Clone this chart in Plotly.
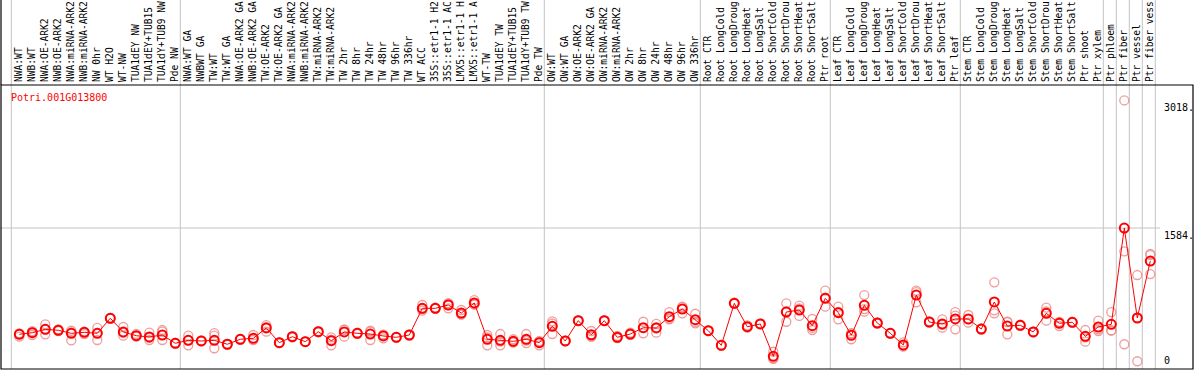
import plotly.graph_objects as go

gene = "Potri.001G013800"

group_nw = ["NWA:WT", "NWB:WT", "NWA:OE-ARK2", "NWB:OE-ARK2", "NWA:miRNA-ARK2", "NWB:miRNA-ARK2",
            "NW 0hr", "WT H2O", "WT-NW", "TUA1dEY NW", "TUA1dEY+TUB15", "TUA1dY+TUB9 NW", "Pde NW"]
group_tw = ["NWA:WT GA", "NWBWT GA", "TW:WT", "TW:WT GA", "NWA:OE-ARK2 GA", "NWB:OE-ARK2 GA",
            "TW:OE-ARK2", "TW:OE-ARK2 GA", "NWA:miRNA-ARK2", "NWB:miRNA-ARK2", "TW:miRNA-ARK2",
            "TW:miRNA-ARK2", "TW 2hr", "TW 8hr", "TW 24hr", "TW 48hr", "TW 96hr", "TW 336hr", "WT ACC",
            "35S::etr1-1 H2", "35S::etr1-1 AC", "LMX5::etr1-1 H", "LMX5::etr1-1 A", "WT-TW",
            "TUA1dEY TW", "TUA1dEY+TUB15", "TUA1dY+TUB9 TW", "Pde TW"]
group_ow = ["OW:WT", "OW:WT GA", "OW:OE-ARK2", "OW:OE-ARK2 GA", "OW:miRNA-ARK2", "OW:miRNA-ARK2",
            "OW 2hr", "OW 8hr", "OW 24hr", "OW 48hr", "OW 96hr", "OW 336hr"]
group_root = ["Root CTR", "Root LongCold", "Root LongDroug", "Root LongHeat", "Root LongSalt",
              "Root ShortCold", "Root ShortDrou", "Root ShortHeat", "Root ShortSalt", "Ptr root"]
group_leaf = ["Leaf CTR", "Leaf LongCold", "Leaf LongDroug", "Leaf LongHeat", "Leaf LongSalt",
              "Leaf ShortCold", "Leaf ShortDrou", "Leaf ShortHeat", "Leaf ShortSalt", "Ptr leaf"]
group_stem = ["Stem CTR", "Stem LongCold", "Stem LongDroug", "Stem LongHeat", "Stem LongSalt",
              "Stem ShortCold", "Stem ShortDrou", "Stem ShortHeat", "Stem ShortSalt", "Ptr shoot",
              "Ptr xylem"]
group_ptr = ["Ptr phloem", "Ptr fiber", "Ptr vessel", "Ptr fiber vess"]

means = [390, 408, 446, 435, 401, 412, 401, 570, 416, 374, 360, 382, 289,
         322, 315, 322, 278, 334, 345, 461, 296, 363, 307, 419, 318, 416, 401, 393, 371, 356, 382,
         682, 682, 719, 629, 742, 334, 322, 311, 334, 296,
         480, 315, 543, 385, 543, 356, 393, 464, 461, 588, 674, 554,
         430, 266, 738, 475, 506, 143, 640, 663, 487, 794,
         633, 379, 716, 517, 401, 270, 831, 528, 506, 562,
         562, 449, 753, 483, 491, 416, 626, 513, 525, 367, 472, 502, 1584, 573, 1213]

rep_a = [401, 382, 502, 440, 430, 393, 461, 565, 472, 393, 408, 438, 295,
         374, 320, 404, 275, 330, 382, 494, 296, 363, 307, 419, 356, 363, 401, 326, 345, 356, 382,
         719, 682, 682, 663, 775, 382, 393, 334, 393, 266,
         536, 315, 543, 427, 543, 371, 408, 531, 506, 640, 626, 621,
         430, 266, 738, 491, 506, 194, 738, 711, 562, 880,
         700, 334, 831, 517, 401, 300, 880, 528, 558, 640,
         607, 449, 974, 531, 491, 416, 689, 483, 525, 438, 543, 640, 3018, 1056, 1292]
rep_b = [363, 415, 390, 425, 322, 420, 326, 575, 374, 365, 326, 420, 285,
         266, 310, 374, 282, 338, 330, 419, 300, 370, 310, 425, 266, 440, 395, 420, 385, 360, 390,
         655, 690, 740, 610, 725, 266, 266, 300, 318, 310,
         393, 320, 548, 365, 538, 350, 385, 401, 408, 565, 700, 513,
         435, 270, 745, 470, 510, 120, 531, 596, 438, 700,
         558, 400, 644, 525, 405, 255, 749, 535, 464, 446,
         520, 455, 626, 390, 498, 420, 543, 530, 530, 307, 427, 430, 1322, 87, 1280]
rep_c = [395, 425, 446, 445, 410, 415, 405, 570, 405, 370, 350, 326, 290,
         325, 315, 233, 278, 334, 325, 470, 292, 356, 304, 412, 330, 445, 408, 430, 382, 352, 375,
         672, 675, 735, 615, 726, 354, 307, 299, 291, 312,
         511, 310, 538, 363, 548, 347, 386, 460, 469, 559, 696, 528,
         425, 262, 731, 464, 502, 115, 651, 682, 461, 802,
         641, 403, 673, 510, 397, 255, 864, 521, 496, 600,
         559, 443, 659, 528, 484, 412, 646, 526, 520, 356, 446, 436, 278, 576, 1067]

right_ticks = [3018, 1584, 0]
right_tick_text = ["3018.", "1584.", "0"]

groups = [group_nw, group_tw, group_ow, group_root, group_leaf, group_stem] + [[g] for g in group_ptr]
labels = [lab for g in groups for lab in g]
xs = list(range(len(labels)))

# separators after each group
bounds = [-1]
acc = -1
for g in groups:
    acc += len(g)
    bounds.append(acc)

W, H = 1194, 370
mono = "DejaVu Sans Mono"
fig = go.Figure()

faint = "rgba(236,140,140,0.85)"
for reps in (rep_a, rep_b, rep_c):
    fig.add_trace(go.Scatter(
        x=xs, y=reps, mode="markers",
        marker=dict(symbol="circle-open", size=9, color=faint, line=dict(width=1.3, color=faint)),
        hoverinfo="skip", showlegend=False, cliponaxis=False))

fig.add_trace(go.Scatter(
    x=xs, y=means, mode="lines+markers",
    line=dict(color="#ff0000", width=1),
    marker=dict(symbol="circle-open", size=9, color="#ff0000", line=dict(width=2, color="#ff0000")),
    hoverinfo="skip", showlegend=False, cliponaxis=False))

shapes = []
grey = "#c4c4c4"
for b in bounds:
    shapes.append(dict(type="line", xref="x", yref="paper", x0=b + 0.385, x1=b + 0.385,
                       y0=1 / H, y1=1, line=dict(color=grey, width=1), layer="below"))
shapes.append(dict(type="line", xref="paper", yref="y", x0=0, x1=1160 / W, y0=1584, y1=1584,
                   line=dict(color=grey, width=1), layer="below"))
# frame
shapes.append(dict(type="rect", xref="paper", yref="paper", x0=1 / W, x1=1193 / W,
                   y0=1 / H, y1=285 / H, line=dict(color="black", width=1.2)))
shapes.append(dict(type="line", xref="paper", yref="paper", x0=1 / W, x1=1 / W,
                   y0=285 / H, y1=1, line=dict(color="black", width=1.2)))

annotations = [dict(text=gene, xref="paper", yref="paper", x=9 / W, y=(H - 97) / H,
                    xanchor="left", yanchor="middle", showarrow=False,
                    font=dict(family=mono, size=10, color="#ff0000"))]
for v, t in zip(right_ticks, right_tick_text):
    annotations.append(dict(text=t, xref="paper", yref="y", x=1162 / W, y=v,
                            xanchor="left", yanchor="top" if v > 0 else "bottom",
                            yshift=0 if v > 0 else 1,
                            showarrow=False, font=dict(family=mono, size=10, color="black")))

x_min = -19.3 / 13
x_max = x_min + W / 13
y_top = 284 / 0.089

fig.update_layout(
    template="none",
    width=W, height=H, margin=dict(l=0, r=0, t=0, b=0, pad=0), autosize=False,
    paper_bgcolor="white", plot_bgcolor="white",
    shapes=shapes, annotations=annotations,
    xaxis=dict(range=[x_min, x_max], domain=[0, 1], side="top", tickmode="array",
               tickvals=xs, ticktext=labels, tickangle=-90, ticks="", showgrid=False,
               zeroline=False, showline=False, ticklabelstandoff=2, automargin=False,
               tickfont=dict(family=mono, size=9.6, color="black"), fixedrange=True),
    yaxis=dict(range=[0, y_top], domain=[1 / H, 285 / H], showticklabels=False, ticks="",
               showgrid=False, zeroline=False, showline=False, fixedrange=True, automargin=False),
)

fig.write_html("out.html", config={"displayModeBar": False},
               post_script="document.body.style.margin='0';document.body.style.overflow='hidden';")
